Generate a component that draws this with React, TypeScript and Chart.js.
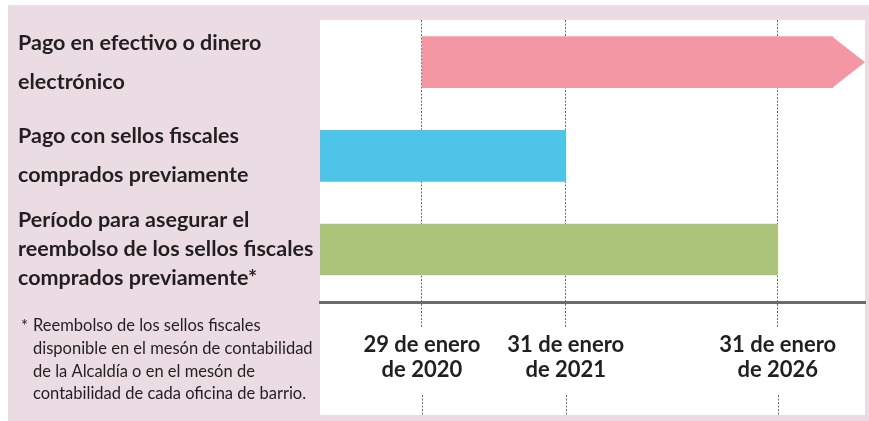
import { useEffect, useRef } from 'react';
import { Chart, registerables } from 'chart.js';

Chart.register(...registerables);

// Rows (left labels, multi-line)
const categories: string[][] = [
  ['Pago en efectivo o dinero', 'electrónico'],
  ['Pago con sellos fiscales', 'comprados previamente'],
  ['Período para asegurar el', 'reembolso de los sellos fiscales', 'comprados previamente*'],
];

// Schematic timeline (0–100 units across the plot)
const barStarts = [18.7, 0, 0];
const barEnds = [94.1, 45.1, 84.0];
const arrowTips: (number | null)[] = [100, null, null];

const milestoneValues = [18.7, 45.1, 84.0];
const milestoneLabels: string[][] = [
  ['29 de enero', 'de 2020'],
  ['31 de enero', 'de 2021'],
  ['31 de enero', 'de 2026'],
];

const footnoteLines = [
  'Reembolso de los sellos fiscales',
  'disponible en el mesón de contabilidad',
  'de la Alcaldía o en el mesón de',
  'contabilidad de cada oficina de barrio.',
];

const barColors = ['#f497a5', '#4ec5e8', '#acc47a'];
const PANEL_BG = '#ebdce3';
const TEXT = '#231f20';
const DOT = '#6a6a6a';
const FONT = 'Lato';

export default function App() {
  const ref = useRef<HTMLCanvasElement>(null);

  useEffect(() => {
    document.body.style.margin = '0';
    const canvas = ref.current;
    if (!canvas) return;

    const backgroundPlugin = {
      id: 'panelBackground',
      beforeDraw(chart: any) {
        const { ctx, chartArea: ca, width, height } = chart;
        ctx.save();
        ctx.fillStyle = '#ffffff';
        ctx.fillRect(0, 0, width, height);
        ctx.fillStyle = PANEL_BG;
        ctx.fillRect(8, 5, width - 8, height - 5);
        ctx.fillStyle = '#ffffff';
        ctx.fillRect(ca.left, ca.top, ca.right - ca.left, height - 6 - ca.top);
        ctx.restore();
      },
    };

    const arrowPlugin = {
      id: 'arrowHeads',
      afterDatasetsDraw(chart: any) {
        const { ctx } = chart;
        const meta = chart.getDatasetMeta(0);
        const xs = chart.scales.x;
        ctx.save();
        arrowTips.forEach((tip, i) => {
          if (tip === null) return;
          const el = meta.data[i];
          const { x, y, height } = el.getProps(['x', 'y', 'height'], true);
          const tipX = xs.getPixelForValue(tip);
          ctx.fillStyle = barColors[i];
          ctx.beginPath();
          ctx.moveTo(x - 0.5, y - height / 2);
          ctx.lineTo(tipX, y);
          ctx.lineTo(x - 0.5, y + height / 2);
          ctx.closePath();
          ctx.fill();
        });
        ctx.restore();
      },
    };

    const extrasPlugin = {
      id: 'extras',
      afterDraw(chart: any) {
        const { ctx, height } = chart;
        const xs = chart.scales.x;
        ctx.save();
        // lower dotted stubs below the date labels
        ctx.strokeStyle = DOT;
        ctx.lineWidth = 1;
        ctx.setLineDash([2, 1.5]);
        milestoneValues.forEach((v) => {
          const px = Math.round(xs.getPixelForValue(v)) + 0.5;
          ctx.beginPath();
          ctx.moveTo(px, height - 26);
          ctx.lineTo(px, height - 6);
          ctx.stroke();
        });
        ctx.setLineDash([]);
        // footnote
        ctx.fillStyle = TEXT;
        ctx.font = `16.5px ${FONT}`;
        ctx.textBaseline = 'middle';
        ctx.textAlign = 'left';
        ctx.fillText('*', 21, 327);
        footnoteLines.forEach((line, i) => {
          ctx.fillText(line, 33, 326 + i * 22.7);
        });
        ctx.restore();
      },
    };

    const chart = new Chart(canvas, {
      type: 'bar',
      data: {
        datasets: [
          {
            data: categories.map((_, i) => ({ x: [barStarts[i], barEnds[i]], y: i })) as any,
            backgroundColor: barColors,
            borderWidth: 0,
            barThickness: 51,
          },
        ],
      },
      options: {
        indexAxis: 'y',
        animation: false,
        responsive: false,
        events: [],
        layout: { padding: { left: 18, right: 4, top: 20, bottom: 0 } },
        plugins: {
          legend: { display: false },
          tooltip: { enabled: false },
        },
        scales: {
          x: {
            type: 'linear',
            min: 0,
            max: 100,
            position: 'bottom',
            z: 1,
            afterBuildTicks: (s: any) => {
              s.ticks = milestoneValues.map((v) => ({ value: v }));
            },
            ticks: {
              autoSkip: false,
              maxRotation: 0,
              minRotation: 0,
              padding: 5,
              color: TEXT,
              font: { family: FONT, weight: 'bold', size: 22, lineHeight: 25 / 22 },
              callback: (_v: any, i: number) => milestoneLabels[i],
            },
            grid: {
              color: DOT,
              lineWidth: 1,
              tickLength: 25,
              tickColor: DOT,
              tickBorderDash: [2, 1.5],
              drawOnChartArea: true,
            },
            border: { display: true, color: '#6b6b6b', width: 3, dash: [2, 1.5] },
            afterFit: (s: any) => {
              s.height = 119;
              s.paddingLeft = 0;
              s.paddingRight = 0;
            },
          } as any,
          y: {
            type: 'linear',
            reverse: true,
            offset: false,
            min: -0.45,
            max: 2.56,
            afterBuildTicks: (s: any) => {
              s.ticks = categories.map((_, i) => ({ value: i }));
            },
            ticks: {
              autoSkip: false,
              crossAlign: 'far',
              padding: 0,
              color: TEXT,
              font: (c: any) => ({
                family: FONT,
                weight: 'bold',
                size: 21.5,
                lineHeight: c.index === 2 ? 29 / 21.5 : 39 / 21.5,
              }),
              callback: (v: any) => categories[Math.round(Number(v))],
            },
            grid: { display: false, offset: false },
            border: { display: false },
            afterFit: (s: any) => {
              s.width = 302;
              s.paddingTop = 0;
              s.paddingBottom = 0;
            },
          } as any,
        },
      },
      plugins: [backgroundPlugin, arrowPlugin, extrasPlugin],
    });

    return () => chart.destroy();
  }, []);

  return (
    <div style={{ width: 869, height: 421 }}>
      <canvas ref={ref} width={869} height={421} style={{ display: 'block' }} />
    </div>
  );
}
